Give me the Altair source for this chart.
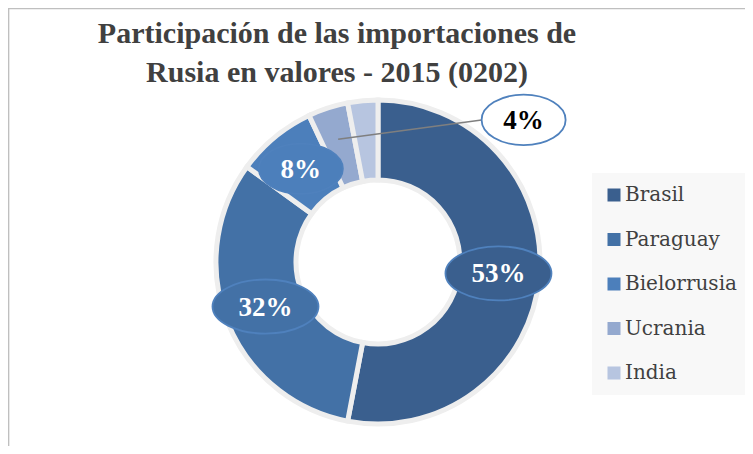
import altair as alt
import pandas as pd

# ---- data ----
paises = ["Brasil", "Paraguay", "Bielorrusia", "Ucrania", "India"]
valores = [53, 32, 8, 4, 3]
etiquetas = ["53%", "32%", "8%", "4%", ""]
titulo = ["Participación de las importaciones de", "Rusia en valores - 2015 (0202)"]

# ---- style ----
colores = ["#3A5F8E", "#4371A6", "#4C7FBB", "#94A9CF", "#B7C5E0"]
W, H = 737, 438
CX, CY = 370, 254
R_OUT, R_IN, R_LAB, R_LEAD = 162, 82, 121, 129
CALLOUT = "Ucrania"
CALL_DX, CALL_DY = 183, -27
ELL_WIDE = "M-1,0A1,0.51,0,1,0,1,0A1,0.51,0,1,0,-1,0Z"
ELL_NARROW = "M-1,0A1,0.6,0,1,0,1,0A1,0.6,0,1,0,-1,0Z"
SERIF = "Liberation Serif"

df = pd.DataFrame({"pais": paises, "valor": valores, "etiqueta": etiquetas,
                   "orden": list(range(len(paises)))})

base = alt.Chart(df)

arcs = base.mark_arc(innerRadius=R_IN, outerRadius=R_OUT, stroke="#eeeeee", strokeWidth=5).encode(
    theta=alt.Theta("valor:Q", stack=True),
    order=alt.Order("orden:Q"),
    color=alt.Color("pais:N", sort=paises,
                    scale=alt.Scale(domain=paises, range=colores),
                    legend=alt.Legend(title=None, orient="none", legendX=584, legendY=165,
                                      fillColor="#f8f8f8", padding=12, symbolType="square",
                                      symbolSize=169, symbolStrokeWidth=0,
                                      labelFont="DejaVu Serif", labelFontSize=20,
                                      labelColor="#404040", rowPadding=24.5, labelOffset=1,
                                      labelLimit=300)),
    x=alt.value(CX), y=alt.value(CY),
)

pos = base.transform_joinaggregate(total="sum(valor)").transform_window(
    cum="sum(valor)", sort=[alt.SortField("orden")], frame=[None, 0]
).transform_calculate(
    ang="(datum.cum - datum.valor/2)/datum.total*2*PI"
).transform_calculate(
    ax=f"{CX} + {R_LAB}*sin(datum.ang)",
    ay=f"{CY} - {R_LAB}*cos(datum.ang)",
    bx=f"{CX} + {R_LEAD}*sin(datum.ang)",
    by=f"{CY} - {R_LEAD}*cos(datum.ang)",
    callout=f"datum.pais == '{CALLOUT}'",
    ew="length(datum.etiqueta) >= 3 ? 106 : 84",
).transform_calculate(
    lx=f"datum.ax + (datum.callout ? {CALL_DX} : 0)",
    ly=f"datum.ay + (datum.callout ? {CALL_DY} : 0)",
    esize="datum.ew*datum.ew",
    eshape=f"length(datum.etiqueta) >= 3 ? '{ELL_WIDE}' : '{ELL_NARROW}'",
).transform_calculate(
    lx0="datum.lx - datum.ew/2",
).transform_filter("datum.etiqueta != ''")

xs = alt.Scale(domain=[0, W], range=[0, W])
ys = alt.Scale(domain=[0, H], range=[0, H])

leader = pos.transform_filter("datum.callout").mark_rule(color="#7f7f7f", strokeWidth=1.5).encode(
    x=alt.X("bx:Q", scale=xs, axis=None), y=alt.Y("by:Q", scale=ys, axis=None),
    x2="lx0:Q", y2="ly:Q",
)

ellipses = pos.mark_point(filled=True, opacity=1, stroke="#4F81BD", strokeWidth=1.8).encode(
    x=alt.X("lx:Q", scale=xs, axis=None), y=alt.Y("ly:Q", scale=ys, axis=None),
    shape=alt.Shape("eshape:N", scale=None, legend=None),
    size=alt.Size("esize:Q", scale=None, legend=None),
    fill=alt.condition("datum.callout", alt.value("white"),
                       alt.Fill("pais:N", scale=alt.Scale(domain=paises, range=colores), legend=None)),
)

labels = pos.mark_text(font=SERIF, fontWeight="bold", fontSize=27, baseline="middle", dy=1).encode(
    x=alt.X("lx:Q", scale=xs, axis=None), y=alt.Y("ly:Q", scale=ys, axis=None),
    text="etiqueta:N",
    color=alt.condition("datum.callout", alt.value("black"), alt.value("white")),
)

t1 = alt.Chart(pd.DataFrame({"t": [titulo[0]]})).mark_text(
    font=SERIF, fontWeight="bold", fontSize=30, color="#404040", align="center", baseline="alphabetic"
).encode(text="t:N", x=alt.value(329), y=alt.value(35))
t2 = alt.Chart(pd.DataFrame({"t": [titulo[1]]})).mark_text(
    font=SERIF, fontWeight="bold", fontSize=30, color="#404040", align="center", baseline="alphabetic"
).encode(text="t:N", x=alt.value(329), y=alt.value(74))

frame_top = alt.Chart(pd.DataFrame({"a": [0]})).mark_rule(color="#bfbfbf", strokeWidth=1.5).encode(
    x=alt.value(0), x2=alt.value(W), y=alt.value(0.6))
frame_left = alt.Chart(pd.DataFrame({"a": [0]})).mark_rule(color="#bfbfbf", strokeWidth=1.5).encode(
    x=alt.value(0.6), y=alt.value(0), y2=alt.value(H))

chart = alt.layer(frame_top, frame_left, arcs, leader, ellipses, labels, t1, t2).properties(
    width=W, height=H, autosize=alt.AutoSizeParams(type="none"), padding=0, background="white"
).configure_view(stroke=None)

chart.save("out.html", embed_options={"renderer": "svg", "actions": False})
